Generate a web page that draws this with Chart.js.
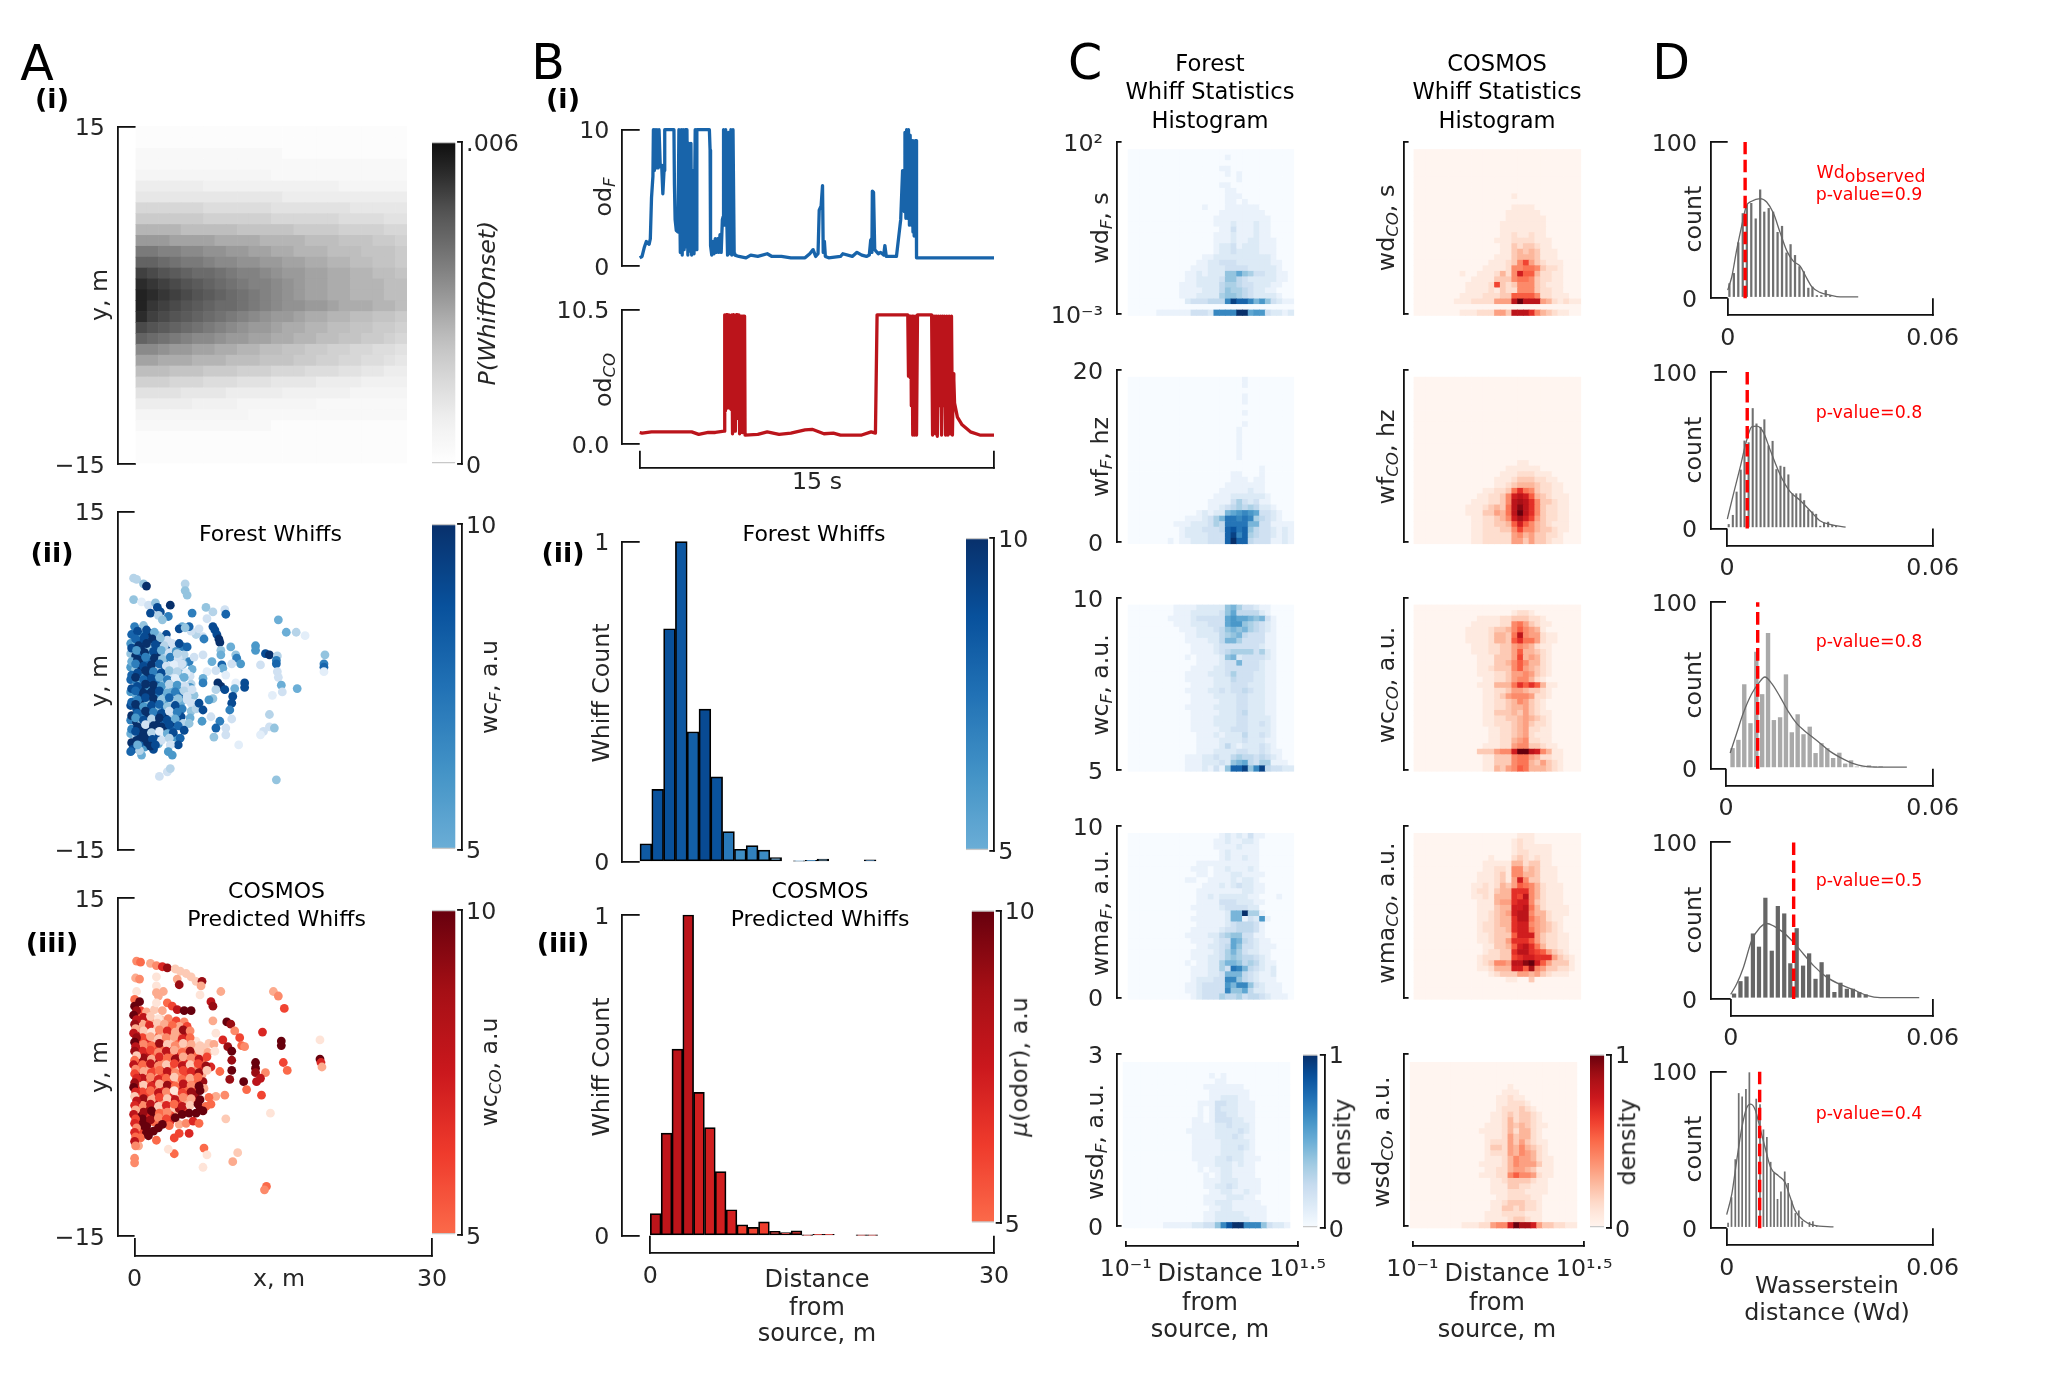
<!DOCTYPE html>
<html lang="en">
<head>
  <meta charset="UTF-8" />
  <title>Whiff statistics</title>
  <script src="https://cdn.jsdelivr.net/npm/chart.js"></script>
  <style>
    html, body { margin: 0; background: #fff; }
    #page { position: relative; width: 2067px; height: 1378px; overflow: hidden; font-family: "DejaVu Sans", sans-serif; }
    #page canvas { position: absolute; }
    .txt { position: absolute; white-space: nowrap; line-height: 1; color: #262626; z-index: 5; }
    .txt sub { font-size: .7em; line-height: 0; vertical-align: -.25em; font-style: italic; }
  </style>
</head>
<body>
<div id="page"></div>
<script>
// ---- data ----

// A(i) P(WhiffOnset), rows top to bottom, one base 36 digit per cell
const onsetRows = [
  '111111111111111111111111', '111111111111111111111111', '222222222222211111111111',
  '222222222222222222222222', '333333333333222222222222', '555555444444444444333333',
  '666666666666655555555555', '999999888888777777766666', 'bbbbbbaaaaaa999999888877',
  'eeeedddddcccccbbbbaaaa99', 'hhhggggffffeeeedddcccbba', 'llkkjjiihhggffeeedddcccb',
  'oonmllkjjiihhggffeeddccb', 'srqponnmlkkjihhggffeeddc', 'utsrqponmlkkjihggffeeedd',
  'vutsrqponmlkjihggffeeedd', 'vtsrqponnmlkjiihhgfffeed', 'usrqponmlkjihhgffeeddccb',
  'rqponmlkjihhgffeeddccbba', 'onmlkjjihhggffeeddccbba9', 'jjihhggffeeddccbbaa99887',
  'ggfffeeedddcccbbaa998876', 'dddcccbbbaaa999888776655', 'aaa999888777666655554444',
  '777766665555544444433333', '555554444333333322222222', '333333333322222222222222',
  '222222222222111111111111', '111111111111111111111111', '111111111111111111111111',
  '111111111111111111111111'
];

// A(ii) forest whiffs [x m, y m, wc]
const forestWhiffs = [
  [0,4.8,7],[.9,4.9,4],[-.4,3.3,6],[.5,3.3,7],[1.1,2.9,8],[1.9,3,5],[2.8,3.4,6],[-.4,2.4,4],[.4,2.4,9],[1.2,2.3,5],[2,2.3,9],[2.8,2.3,6],
  [3.5,2.9,3],[-.4,1.2,6],[.4,1.3,5],[1.2,1,6],[2,1.2,8],[2.8,1.2,5],[3.5,1.5,4],[-.4,.1,8],[.5,0,9],[1.2,-.1,6],[2,.1,6],[2.8,-.1,9],
  [3.5,.2,2],[4.4,.2,4],[-.4,-1,6],[.5,-1.1,5],[1.3,-.9,7],[2.1,-1.1,6],[2.9,-1.1,7],[3.6,-.9,2],[4.4,-1,3],[-.4,-2.2,9],[.5,-2.2,6],
  [1.3,-2.3,8],[2.1,-2.2,10],[2.9,-2.2,5],[3.6,-2.2,7],[4.4,-2.3,2],[-.4,-3.5,7],[.5,-3.5,10],[1.3,-3.5,6],[2.1,-3.5,8],[2.9,-3.6,4],
  [3.6,-3.4,6],[-.4,-4.7,5],[.5,-4.7,6],[1.3,-4.6,8],[2.1,-4.7,10],[3,-4.7,6],[-.1,-5.9,8],[1,-5.9,6],[.7,-6.6,5],
  [-.3,4.1,8],[.7,4,6],[1.6,4.2,10],[2.4,4,3],[3.2,4.1,9],[-.8,3.5,10],[.2,3.4,5],[.8,3.6,9],[1.5,3.4,7],[2.3,3.5,10],[3.3,3.6,2],
  [-.3,2.9,9],[.6,2.8,10],[1.5,3,4],[2.4,2.9,7],[3.2,2.8,9],[4,2.9,2],[4.9,3,7],[-.8,2.3,7],[.1,2.2,10],[.7,2.3,8],[1.5,2.2,6],
  [2.4,2.4,10],[3.1,2.3,3],[3.9,2.2,5],[5,2.3,3],[-.3,1.7,5],[.5,1.8,10],[1.3,1.7,8],[2.2,1.8,4],[3,1.7,6],[3.8,1.8,1],[4.6,1.9,3],
  [5.5,1.7,7],[-.8,1.1,10],[.1,1,4],[.7,1.2,10],[1.5,1.1,9],[2.3,1,3],[3.1,1.2,8],[3.9,1.1,3],[4.7,1,2],[5.8,1,5],[-.3,.5,8],[.6,.4,6],
  [1.4,.6,10],[2.2,.5,10],[3,.4,3],[3.8,.5,2],[4.6,.6,5],[5.6,.4,2],[-.8,-.1,10],[.2,-.1,7],[.7,-.1,5],[1.4,0,10],[2.2,-.2,8],[3,-.1,4],
  [3.9,0,6],[4.7,-.1,1],[5.7,-.3,3],[-.3,-.7,9],[.6,-.8,10],[1.5,-.6,6],[2.2,-.7,10],[3.1,-.8,3],[3.9,-.7,5],[4.7,-.8,4],[5.6,-.6,6],
  [-.8,-1.3,10],[.2,-1.4,5],[.7,-1.3,9],[1.5,-1.2,10],[2.2,-1.4,7],[3,-1.3,4],[3.9,-1.2,2],[4.8,-1.3,8],[6,-1.3,4],[-.3,-1.9,8],[.6,-1.9,10],
  [1.4,-2,4],[2.2,-1.9,10],[3,-1.9,6],[3.8,-2,3],[4.7,-1.9,5],[5.7,-2,2],[-.8,-2.5,6],[.2,-2.5,9],[.7,-2.6,10],[1.5,-2.5,8],[2.2,-2.6,4],
  [3.1,-2.5,8],[3.9,-2.6,6],[4.8,-2.5,7],[5.7,-2.7,4],[-.3,-3.1,10],[.6,-3.1,7],[1.4,-3.2,10],[2.2,-3.1,5],[3,-3.1,10],[3.9,-3.1,3],[4.7,-3.2,9],
  [5.6,-3.3,5],[-.8,-3.7,9],[.2,-3.7,10],[.7,-3.8,4],[1.5,-3.7,10],[2.2,-3.8,10],[3,-3.7,8],[3.9,-3.7,10],[4.9,-3.8,3],[-.3,-4.3,7],[.6,-4.3,10],
  [1.4,-4.4,10],[2.2,-4.3,9],[3,-4.3,10],[3.7,-4.4,8],[-.8,-4.9,9],[.2,-4.9,3],[.6,-5,10],[1.3,-4.9,10],[2.2,-5,9],[3,-5,1],[4.1,-5,6],
  [-.3,-5.5,10],[.6,-5.5,8],[1.3,-5.5,10],[2.4,-5.6,5],[-.8,-6.1,7],[-.2,-6.1,9],[.5,-6.2,3],[1.9,-6.1,9],[-.8,-7.2,7],[-.6,-7.4,5],
  [-.6,4.6,10],[.3,4.4,9],[1.2,4.5,9],[2,4.3,5],[-.7,3.9,9],[.1,3.7,8],[1,3.9,9],[1.8,3.7,10],[2.6,3.8,4],
  [-.6,3.2,7],[.4,3.1,10],[1.2,3.3,10],[2.1,3.2,9],[3,3.1,3],[3.8,3.3,2],[-.7,2.6,8],[.2,2.7,6],[1,2.5,10],
  [1.9,2.6,9],[2.7,2.7,5],[3.5,2.5,2],[4.2,2.6,6],[-.6,2,9],[.3,1.9,10],[1.1,2.1,7],[2,2,10],[2.8,1.9,4],
  [3.6,2.1,7],[4.4,2,2],[-.7,1.4,10],[.1,1.5,7],[.9,1.3,9],[1.7,1.4,10],[2.5,1.5,8],[3.2,1.3,2],[4,1.4,1],
  [4.9,1.5,5],[-.6,.8,6],[.3,.7,9],[1.1,.9,10],[1.9,.8,7],[2.7,.7,9],[3.5,.9,4],[4.3,.8,3],[5.2,.7,1],
  [-.7,.2,9],[.1,.3,10],[.9,.1,8],[1.7,.2,9],[2.5,.3,5],[3.3,.1,7],[4.1,.2,1],[5,.3,5],[-.6,-.4,7],[.3,-.5,9],
  [1.1,-.3,10],[1.9,-.4,10],[2.7,-.5,6],[3.5,-.3,3],[4.3,-.4,6],[5.1,-.5,2],[-.7,-1,8],[.1,-.9,8],[.9,-1.1,10],
  [1.7,-1,10],[2.5,-.9,9],[3.3,-1.1,5],[4.1,-1,7],[5,-.9,3],[-.6,-1.6,10],[.3,-1.7,7],[1.1,-1.5,9],[1.9,-1.6,10],
  [2.7,-1.7,4],[3.5,-1.5,8],[4.4,-1.6,4],[5.3,-1.7,2],[-.7,-2.2,7],[.1,-2.1,10],[.9,-2.3,6],[1.7,-2.2,9],
  [2.5,-2.1,8],[3.3,-2.3,4],[4.1,-2.2,9],[-.6,-2.8,9],[.3,-2.9,8],[1.1,-2.7,10],[1.9,-2.8,7],[2.7,-2.9,9],
  [3.5,-2.7,2],[4.3,-2.8,7],[-.7,-3.4,10],[.1,-3.3,6],[.9,-3.5,9],[1.7,-3.4,3],[2.5,-3.3,10],[3.3,-3.5,9],
  [4.1,-3.4,5],[-.6,-4,8],[.3,-4.1,10],[1.1,-3.9,2],[1.9,-4,10],[2.7,-4.1,10],[3.5,-3.9,9],[4.4,-4,8],
  [-.7,-4.6,10],[.1,-4.5,9],[.9,-4.7,10],[1.7,-4.6,3],[2.5,-4.5,1],[3.3,-4.7,5],[3.9,-4.6,9],[-.6,-5.2,3],
  [.2,-5.3,10],[1,-5.1,10],[1.8,-5.2,9],[2.7,-5.3,2],[3.5,-5.1,3],[-.7,-5.8,10],[.3,-5.7,5],[1.6,-5.8,10],
  [2.1,-5.7,9],[-.7,-6.4,9],[-.4,-6.3,8],[-.7,-6.9,8],[-.5,-6.7,6],
  [-.8,9.8,9],[-.8,9.4,8],[-.1,9.1,3],[.2,9,3],[.9,8.6,4],[1.2,8.4,10],[5.1,8.6,3],[5.1,8,4],[5.3,7.6,4],
  [-.6,7.5,2],[-.1,7.2,4],[.7,7,1],[1.4,6.7,2],[2.1,6.9,4],[1.6,6,9],[2.3,6.5,9],[2.6,6.1,9],[3.6,6.7,10],
  [2.4,5.8,3],[3.4,5.7,7],[2.8,5.4,4],[5.8,6,7],[7.2,6.5,4],[7.9,6.1,3],[9.1,6.3,2],[9.2,5.9,8],[7.3,5.5,2],
  [14.5,5.4,5],[15.3,4.3,5],[16.3,4.3,3],[17.2,4,1],[12.2,3.1,6],[12.2,2.7,6],[13.2,2.4,9],[13.6,2.3,10],
  [14.4,2.2,3],[14.3,1.8,7],[14.3,1.5,8],[12.7,1.4,2],[14.4,.8,2],[14.5,.3,2],[14.8,-.4,5],[14.9,-1,2],
  [16.4,-.7,5],[13.9,-1.3,1],[19.2,2.3,4],[19.1,1.5,7],[19.1,1.2,8],[19.1,.8,1],[13.6,-3,3],[13.6,-4.1,2],
  [14.1,-4.2,4],[13,-4.5,2],[12.7,-4.8,1],[14.3,-8.8,4],[2.5,-8.5,2],[3.3,-8.1,2],[3.6,-7.8,3],[10.5,-5.7,1],
  [7.9,4.8,9],[8.1,4.5,9],[8.3,4.1,9],[8.5,3.7,10],[8.6,3.4,10],[6.9,3.9,2],[6.2,4.1,3],[5.7,4.4,2],[4.8,4.8,5],
  [4.5,4.6,9],[5.5,4.8,8],[5.1,4.7,4],[6.5,4.6,2],[7,3.7,7],[9.7,3,5],[8.7,2.7,4],[8.7,2.3,5],[10.2,2.3,4],
  [10.3,2,7],[10.7,1.5,6],[9.8,1.5,2],[7.8,1.7,5],[8.8,1.4,8],[8.9,1.1,5],[6.9,2.3,2],[6,2.1,2],[5.3,3,8],
  [4.5,3.3,9],[4.3,2.4,3],[4.8,1.5,2],[7.3,.8,1],[8.2,.9,2],[9.2,.5,1],[10.2,-.2,1],[11.1,-.2,9],[11.1,-.6,9],
  [8.4,-.2,10],[8.7,-.5,10],[9.1,-.8,9],[10.1,-.7,5],[9.9,-1.4,9],[9.8,-2,9],[9.6,-2.6,7],[6.9,.2,5],[6.9,-.2,7],
  [8.2,-.8,3],[7.9,-1.6,4],[7.5,-1.7,6],[6.2,-2.5,3],[6.8,-3.6,6],[7.7,-3.2,2],[8.6,-3.6,7],[8.2,-4.2,8],[8,-5,4],
  [9.2,-4.2,2],[9.2,-4.8,2],[9.8,-3.4,2],[5.8,-.8,2],[5.3,-1.4,2],[6.5,-2,9],[6.9,-2.6,9],[5.5,-3.8,4],[5,-4.4,9],
  [4.6,-5.1,8],[4.4,-5.7,9],[3.6,-5.7,2],[3.4,-6.3,6],[3.8,-6.6,6]
];

// A(iii) COSMOS predicted whiffs [x m, y m, wc]
const cosmosWhiffs = [
  [.2,4.7,6],[.8,4.7,4],[3.5,3.9,2],[1,3.2,3],[2.2,3.1,4],[3.1,3,2],[4.1,3.5,3],[1,2.4,5],[1.7,2.4,3],[2.5,2.6,6],[3.4,2.4,4],[4.2,2.4,5],
  [5,2.6,3],[1,1.8,7],[1.7,1.3,4],[2.5,1.8,3],[3.3,1.9,6],[4.2,1.3,6],[5.1,1.3,4],[5.9,1.1,4],[1,.6,6],[1.7,.1,3],[2.4,.7,2],[3.2,.6,6],
  [3.9,0,3],[4.7,.6,4],[5.5,.7,5],[6.2,.1,7],[1,-.6,7],[1.7,-1.1,6],[2.5,-.9,4],[3.2,-.6,3],[4,-1.3,6],[4.7,-.9,7],[5.5,-.7,4],[6.2,-1.1,6],
  [1,-1.6,5],[1.7,-2.3,7],[2.5,-2,6],[3.2,-1.9,4],[4,-2.5,4],[4.8,-2,5],[5.5,-1.3,3],[1,-2.9,4],[1.7,-3.5,5],[2.4,-2.8,3],[3.2,-3,6],[4,-3,3],
  [4.8,-3,3],[5.5,-3,5],[1,-3.7,8],[2.4,-3.9,7],[3.4,-3.5,4],[4.2,-3.9,3],[1.1,-4.7,9],
  [.6,5,6],[1.2,4.9,3],[2,5.1,2],[2.8,5,3],[.5,4.4,5],[1.3,4.1,6],[2,4,3],[2.7,4.2,2],[3.4,4.3,4],[4.2,4.1,6],[5,4,4],
  [.5,3.5,7],[1.1,3.5,4],[1.9,3.4,2],[2.8,3.5,5],[3.7,3.4,4],[4.5,3.6,3],[5.3,3.6,6],[.5,2.9,8],[1.3,2.9,3],[2,2.9,5],[2.8,2.9,3],
  [3.6,2.9,6],[4.4,2.9,4],[5.2,2.9,8],[.5,2.3,6],[1.3,2.3,7],[2.1,2.3,2],[2.9,2.3,6],[3.7,2.3,2],[4.5,2.3,5],[5.3,2.3,6],[6.2,2.3,1],
  [.5,1.7,9],[1.2,1.7,3],[2,1.7,6],[2.8,1.7,5],[3.6,1.7,7],[4.4,1.7,3],[5.2,1.7,4],[6,1.7,2],[7,1.7,2],[.5,1.1,4],[1.3,1.1,8],[2.1,1.1,5],
  [2.9,1.1,2],[3.7,1.1,5],[4.5,1.1,8],[5.3,1.1,3],[6.1,1.1,5],[6.9,1.1,2],[.5,.5,8],[1.2,.5,5],[2,.5,9],[2.8,.5,4],[3.6,.5,2],[4.4,.5,5],
  [5.2,.5,7],[6,.5,3],[6.8,.5,5],[.5,-.1,6],[1.3,-.1,3],[2.1,-.1,6],[2.9,-.1,8],[3.7,-.1,5],[4.5,-.1,2],[5.3,-.1,5],[6.1,-.1,4],[6.9,-.1,7],
  [.5,-.7,9],[1.2,-.7,7],[2,-.7,3],[2.8,-.7,6],[3.6,-.7,9],[4.4,-.7,4],[5.2,-.7,6],[6,-.7,8],[6.8,-.7,3],[.5,-1.3,4],[1.3,-1.3,5],[2.1,-1.3,8],
  [2.9,-1.3,3],[3.7,-1.3,6],[4.5,-1.3,3],[5.3,-1.3,7],[6.1,-1.3,5],[6.9,-1.3,9],[.5,-1.9,7],[1.2,-1.9,9],[2,-1.9,4],[2.8,-1.9,7],[3.6,-1.9,3],
  [4.4,-1.9,8],[5.2,-1.9,5],[6,-1.9,6],[7,-1.9,3],[.5,-2.5,5],[1.3,-2.5,6],[2.1,-2.5,3],[2.9,-2.5,5],[3.7,-2.5,7],[4.5,-2.5,2],[5.3,-2.5,6],
  [6.1,-2.5,9],[.5,-3.1,8],[1.2,-3.1,4],[2,-3.1,8],[2.8,-3.1,3],[3.6,-3.1,5],[4.4,-3.1,6],[5.2,-3.1,3],[6,-3.1,7],[.5,-3.7,3],[1.3,-3.7,9],
  [2.1,-3.7,6],[2.9,-3.7,4],[3.7,-3.7,2],[4.5,-3.7,9],[5.3,-3.7,6],[.5,-4.3,10],[1.2,-4.3,7],[2,-4.3,10],[2.8,-4.3,3],[3.6,-4.3,6],
  [.5,-4.9,9],[1.3,-5,10],[2,-4.9,5],[3.1,-5,5],[3.6,-4.8,7],[.6,-5.6,6],[1.2,-5.8,10],[.6,-6.3,5],[.4,-7,3],[4.5,-5.1,3],[5.2,-5,4],[5.9,-4.8,7],
  [.2,9.4,4],[.6,9.3,5],[1.6,9.2,3],[2.2,9,4],[2.8,8.9,7],[3.3,8.8,9],[4.1,8.7,2],[4.6,8.5,2],[5.2,8.3,2],[5.7,8,2],
  [6.2,7.6,2],[6.8,7.6,9],[6.7,7.2,3],[6.6,6.4,1],[.1,7.9,3],[.5,7.8,4],[2.2,8,1],[4.3,7.8,3],[4.5,7.3,9],[2.2,7.2,1],
  [.2,6.7,1],[2.9,6.7,3],[2.4,6.3,3],[2.2,6.6,3],[8.7,6.7,3],[7.7,5.8,8],[7.9,5.4,9],[14,6.7,3],[14.5,6.3,4],[15.1,5.2,6],
  [0,6,5],[.5,5.8,10],[2.2,5.7,1],[3.3,5.7,5],[3.8,5.4,6],[4.3,5.1,8],[5,5,10],[5.7,5,10],[7.9,4.1,3],[9.3,4,10],
  [9.7,3.8,9],[8.2,3,1],[10.1,3.2,4],[10.6,2.6,6],[8.9,2.4,7],[9.4,1.8,9],[9.8,1.4,10],[10.8,1.9,5],[9.8,.6,9],[11.1,1.8,4],
  [12.9,3.1,7],[14.8,2.3,10],[14.8,1.9,10],[18.7,2.4,1],[18.7,.7,10],[18.8,.4,7],[18.9,0,3],[15,.4,6],[15.4,-.3,5],
  [12.2,.4,10],[12.2,-.1,10],[12.2,-.5,9],[13.2,-.5,4],[12.7,-1,8],[12.3,-1.3,8],[11,-1.3,10],[11.3,-2,5],[12.8,-2.5,6],
  [9.8,-.3,10],[9.6,-1.1,9],[8.6,-.4,5],[7.7,0,7],[9.1,-2.5,4],[8.2,-2.6,3],[7.7,-3.3,5],[9.2,-4.6,2],[13.7,-4.1,1],
  [4,-7.7,5],[3.4,-7.3,1],[7,-7.2,5],[7.3,-7.8,1],[6.9,-8.9,1],[9.9,-8.4,3],[10.4,-7.6,2],[0,-8.1,4],[0,-8.5,4],
  [13.3,-10.6,5],[13.1,-10.9,4],
  [.9,4.4,8],[1.6,4.5,2],[2.4,4.3,1],[.8,3.8,3],[1.5,3.7,7],[2.3,3.9,2],[3,3.8,3],[3.8,3.7,5],[.9,3.2,2],[1.7,3.1,1],
  [2.5,3.3,4],[3.3,3.2,7],[4.1,3.1,3],[4.9,3.3,9],[5.6,3.2,4],[.8,2.6,6],[1.6,2.7,3],[2.4,2.5,2],[3.2,2.6,4],[4,2.7,3],
  [4.8,2.5,7],[5.6,2.6,5],[.9,2,4],[1.7,1.9,5],[2.5,2.1,9],[3.3,2,2],[4.1,1.9,4],[4.9,2.1,2],[5.7,2,3],[6.6,1.9,2],
  [7.5,2.1,2],[8,2,3],[.8,1.4,7],[1.6,1.5,6],[2.4,1.3,4],[3.2,1.4,8],[4,1.5,3],[4.8,1.3,5],[5.6,1.4,9],[6.5,1.5,2],
  [7.4,1.3,3],[8.1,1.4,1],[.9,.8,9],[1.7,.7,3],[2.5,.9,7],[3.3,.8,5],[4.1,.7,9],[4.9,.9,3],[5.7,.8,4],[6.5,.7,8],
  [7.3,.9,6],[.8,.2,5],[1.6,.3,8],[2.4,.1,4],[3.2,.2,2],[4,.3,6],[4.8,.1,8],[5.6,.2,2],[6.4,.3,6],[7.2,.1,9],
  [.9,-.4,3],[1.7,-.5,6],[2.5,-.3,5],[3.3,-.4,8],[4.1,-.5,4],[4.9,-.3,6],[5.7,-.4,7],[6.5,-.5,9],[7.3,-.3,2],
  [.8,-1,8],[1.6,-.9,4],[2.4,-1.1,7],[3.2,-1,5],[4,-.9,2],[4.8,-1.1,5],[5.6,-1,3],[6.4,-.9,5],[.9,-1.6,2],[1.7,-1.7,7],
  [2.5,-1.5,3],[3.3,-1.6,9],[4.1,-1.7,5],[4.9,-1.5,8],[5.7,-1.6,4],[6.5,-1.7,10],[.8,-2.2,6],[1.6,-2.1,5],[2.4,-2.3,8],
  [3.2,-2.2,4],[4,-2.1,1],[4.8,-2.3,6],[5.7,-2.2,9],[6.6,-2.1,10],[.9,-2.8,9],[1.7,-2.9,3],[2.5,-2.7,6],[3.3,-2.8,2],
  [4.1,-2.9,8],[4.9,-2.7,4],[5.7,-2.8,3],[6.6,-2.9,10],[7.5,-2.7,5],[.8,-3.4,4],[1.6,-3.3,8],[2.4,-3.5,2],[3.2,-3.4,7],
  [4,-3.3,5],[4.8,-3.5,8],[5.6,-3.4,2],[6.4,-3.3,10],[7.2,-3.5,5],[.9,-4,9],[1.7,-3.9,10],[2.5,-4.1,5],[3.3,-4,4],
  [.8,-4.6,10],[1.6,-4.7,9],[2.4,-4.5,4],[3.2,-4.6,6],[.9,-5.2,10],[1.2,-5.3,10],[3.5,-5.2,5],
  [0,5.4,10],[.2,5,9],[-.1,4.6,10],[.2,4.2,8],[0,3.8,9],[.1,3.4,3],[-.1,3,8],[.2,2.6,9],[0,2.2,10],[.1,1.8,8],[0,1.4,9],
  [.2,1,2],[0,.6,5],[-.1,.2,8],[.1,-.2,4],[0,-.6,6],[.2,-1,7],[0,-1.4,9],[-.1,-1.8,10],[.1,-2.2,7],[0,-2.6,2],[.2,-3,8],
  [0,-3.4,7],[.1,-3.8,3],[-.1,-4.2,8],[.1,-4.6,6],[0,-5,7],[.2,-5.4,4],[0,-5.8,7],[.1,-6.2,5],[0,-6.6,8],[.1,-7,4],
  [1.4,-6.1,10],[1.9,-5.7,10],[2.4,-5.4,10],[2.8,-5.1,10],[2.2,-6.5,5],[4,-6.3,6],[4.5,-5.9,6],[5.5,-5.9,7],[6.5,-5,5],
  [4.1,-4.5,10],[4.8,-4.2,10],[5.5,-4.1,10],[6.2,-4.1,10],[6.9,-3.9,10],[6.6,-3.8,10]
];

// B(i) odor traces [t s, odor]
const forestOdor = [
  [0,.6],[.1,.7],[.2,1.4],[.28,1.8],[.4,1.6],[.45,2],[.5,5],[.56,6.6],[.58,10],[.62,7],[.65,10],[.7,7.2],[.73,10],[.78,7.2],
  [.82,10],[.87,7.3],[.93,7.4],[.98,5.3],[1.03,7],[1.06,10],[1.45,10],[1.47,6],[1.5,3.4],[1.55,2.6],[1.62,2.5],[1.66,10],
  [1.72,1],[1.76,10],[1.8,.8],[1.84,10],[1.88,1.2],[1.93,10],[1.96,1.4],[2,10],[2.04,.8],[2.08,9],[2.12,1.1],[2.17,9],[2.2,.8],
  [2.25,7],[2.3,.9],[2.35,10],[2.4,1.2],[2.42,10],[2.95,10],[2.98,8.5],[3,1.5],[3.05,.8],[3.1,1.8],[3.15,.9],[3.2,2],[3.25,1],
  [3.3,2],[3.35,1],[3.4,2.3],[3.45,1],[3.5,3.4],[3.53,3.6],[3.55,10],[3.6,3],[3.64,10],[3.68,4],[3.72,.8],[3.76,9.8],[3.8,9],
  [3.83,.9],[3.86,10],[3.9,.8],[3.95,10],[4,.9],[4.03,.8],[4.2,.7],[4.5,.6],[4.7,.8],[5,.7],[5.4,.9],[5.6,.7],[6,.7],[6.4,.6],
  [7,.6],[7.2,.9],[7.34,1.2],[7.45,.7],[7.55,.9],[7.6,4.1],[7.68,4.4],[7.74,5.9],[7.77,1],[7.82,1.8],[7.86,.7],[8,.6],[8.5,.7],
  [8.6,.9],[9,.7],[9.2,1],[9.4,.8],[9.6,.7],[9.72,.8],[9.78,1.9],[9.82,2],[9.83,1],[9.85,5.5],[9.9,5.4],[9.95,1.2],[10.1,.9],
  [10.2,1],[10.33,.8],[10.38,1.5],[10.44,.7],[10.87,.7],[10.95,1.9],[11.05,3.4],[11.13,7],[11.2,4],[11.23,9.8],[11.27,3.5],
  [11.3,10],[11.34,3.5],[11.38,10],[11.42,3],[11.45,9.6],[11.5,3],[11.53,9.2],[11.57,2.5],[11.6,8],[11.62,2.2],[11.67,9.2],
  [11.7,9.2],[11.72,.6],[15,.6]
];
const cosmosOdor = [
  [0,.9],[.1,.85],[.5,.95],[1,.95],[1.5,.95],[2.2,.95],[2.5,.75],[2.9,.9],[3.2,.9],[3.57,1],[3.6,10.1],[3.63,2.6],[3.66,10.1],
  [3.69,2.8],[3.72,10.1],[3.75,3],[3.78,10.1],[3.81,2.8],[3.84,10],[3.87,2.7],[3.9,10.1],[3.93,.8],[3.96,10.1],[3.99,1],[4.02,10],
  [4.05,1],[4.08,10.1],[4.11,2],[4.14,10.1],[4.17,2.7],[4.2,10.1],[4.23,.8],[4.26,10],[4.29,2.8],[4.32,10],[4.35,.9],[4.38,10],
  [4.41,5],[4.44,10],[4.46,.7],[5,.75],[5.4,.95],[5.9,.75],[6.4,.85],[7,1.1],[7.3,1.15],[7.8,.8],[8.2,.85],[8.5,.7],[9.4,.7],
  [9.8,.95],[9.98,.85],[10.05,10.1],[11.35,10.1],[11.38,5.3],[11.42,10],[11.45,5.2],[11.48,10],[11.5,3],[11.53,10],[11.56,.7],
  [11.6,10],[11.64,.7],[11.68,10],[11.72,.7],[11.76,10.1],[12.36,10.1],[12.4,.7],[12.43,10],[12.47,3],[12.5,10],[12.53,.8],
  [12.57,10],[12.6,.6],[12.65,10],[12.7,3],[12.74,10],[12.78,.7],[12.82,10],[12.86,3],[12.9,10],[12.95,.7],[13,10],[13.05,.7],
  [13.1,10],[13.15,.8],[13.2,10],[13.24,.7],[13.28,5.5],[13.3,5],[13.33,3.2],[13.45,2.1],[13.65,1.5],[14,.95],[14.4,.7],[15,.7]
];

// B(ii), B(iii) distance histograms
const forestBins = [.5,1.5,2.5,3.5,4.5,5.5,6.5,7.5,8.5,9.5,10.5,11.5,12.5,13.5,14.5,15.5,16.5,17.5,18.5,19.5];
const forestCounts = [.056,.226,.728,1,.406,.477,.265,.094,.039,.05,.036,.013,null,.002,.004,.008,null,null,null,.006];
const forestMeans = [8.4,8.7,8.8,8.5,8.2,9,8.7,7.2,6.4,6.9,6.5,6.8,7,7,7,6.5,7,7,7,8];
const cosmosBins = [.47,1.42,2.36,3.31,4.25,5.2,6.14,7.09,8.03,8.98,9.92,10.87,11.81,12.76,13.7,14.65,15.59,16.54,17.48,18.43,19.37];
const cosmosCounts = [.069,.32,.582,1,.447,.337,.2,.081,.034,.026,.043,.014,.01,.015,.001,.004,.004,null,null,.001,.001];
const cosmosMeans = [8,7.9,8,8,7.3,7.3,7.3,7.2,6.2,6,6.2,7,7,7,7,7,7,7,7,7,7];

// C density maps, rows top to bottom, one hex digit per cell
const wdForest = [
  '00000000000000000000000000000','00000000000000000100000000000','00000000000000000000000000000','00000000000000001100000000000',
  '00000000000000000101000000000','00000000000000000001000000000','00000000000000001100000000000','00000000000000000110000000000',
  '00000000000000000111000000000','00000000000000000110100000000','00000000000001000111111000000','00000000000000001111111100000',
  '00000000000000011111111110000','00000000000000011121112110000','00000000000000001131112110000','00000000000000011121112110000',
  '00000000000000011121122111000','00000000000000012231222111000','00000000000000012232222111000','00000000000001122222222221000',
  '00000000000011223332222221100','00000000000111222333322222100','00000000001121222668653322110','00000000001122223664322222110',
  '00000000011122224554332221100','00000000011112224655432211000','00000000011122225665432222100','00000000002333444aecca7963211',
  '00000000000000000000000000000','000001111113332aaaaff89932212'
];
const wdCosmos = [
  '00000000000000000000000000000','00000000000000000000000000000','00000000000000000000000000000','00000000000000000000000000000',
  '00000000000000000000000000000','00000000000000000000000000000','00000000000000000000000000000','00000000000000000000000000000',
  '00000000000000000100000000000','00000000000000000000000000000','00000000000000000111100000000','00000000000000001111110000000',
  '00000000000000001111111000000','00000000000000011111111000000','00000000000000011111111000000','00000000000000011211211000000',
  '00000000000000111222211100000','00000000000000011323321100000','00000000000000011343431110000','00000000000000111344431110000',
  '00000000000001112369532111000','00000000000011112667763221000','000000001001112426b8842211000','00000000001111333677632211000',
  '00000000011112932366632111000','00000000011112132266632211000','00000000111122233888862211100','00000001112222555cfccc5421211',
  '00000000000000000000000000000','00000000111222553ccca64321100'
];
const wfForest = [
  '00000000000000000000100000000','00000000000000000000100000000','00000000000000000000000000000','00000000000000000000100000000',
  '00000000000000000000100000000','00000000000000000000000000000','00000000000000000000100000000','00000000000000000000000000000',
  '00000000000000000000100000000','00000000000000000001000000000','00000000000000000001000000000','00000000000000000001000000000',
  '00000000000000000001000000000','00000000000000000001000000000','00000000000000000001000000000','00000000000000000000000000000',
  '00000000000000000000000100000','00000000000000000011000100000','00000000000000000011101100000','00000000000000000111111100000',
  '00000000000000001111121100000','00000000000000011122222210000','00000000000000111135323110000','00000000000000112345454221000',
  '00000000000012122789a98332100','00000000001112357bbaba5432100','00000000111222354bbbb77331111','00000000012223334cdbc64332121',
  '00000000012222333ceac54332121','00000001011222333cfcc43331121'
];
const wfCosmos = [
  '00000000000000000000000000000','00000000000000000000000000000','00000000000000000000000000000','00000000000000000000000000000',
  '00000000000000000000000000000','00000000000000000000000000000','00000000000000000000000000000','00000000000000000000000000000',
  '00000000000000000000000000000','00000000000000000000000000000','00000000000000000000000000000','00000000000000000000000000000',
  '00000000000000000000000000000','00000000000000000000000000000','00000000000000000000000000000','00000000000000000011000000000',
  '00000000000000001111110000000','00000000000000011122211100000','00000000000000111233322110000','00000000000000112344432211000',
  '000000000000112237a7632211000','00000000000112236bcb843211100','00000000001112236cdca63321100','00000000011123437ceca63221100',
  '00000000011133547cfca63221100','00000000001122346bdb953221100','000000000011223348b8643211100','00000000001122233696643321100',
  '00000000001122222564533221000','00000000001122222553533211000'
];
const wcForest = [
  '00000000111122222675332110000','00000000111222223684444210000','00000001111233333898876731000','00000000111222333899654321000',
  '00000000011122234676754321000','00000000001122224567433311000','00000000001111224775333311000','00000000000111123333333211000',
  '00000000000111123455553521000','00000000001011112672333321000','00000000000011112337333211000','00000000000111122333333211000',
  '00000000001111222353332211000','00000000001111122243332211000','00000000000111122233322211000','00000000001111223233432211000',
  '00000000000111122223322211000','00000000000111112223322211000','00000000001111122223322211000','00000000000111112223422211000',
  '00000000000111122223322221000','00000000000111122223322321000','00000000000111112233322221000','00000000000011121222422321000',
  '00000000000011112222322211000','00000000000011112421222321000','00000000000011122223322321100','00000000001112232245443432100',
  '00000000001112223267843551110','000000000011121316cce6ae43322'
];
const wcCosmos = [
  '00000000000000000000000000000','00000000000000000122100000000','00000000000111122333221000000','00000000001111122675321100000',
  '00000000011112334686541000000','000000000111124437c6552110000','000000000111124438a7752110000','00000000001112233565421100000',
  '00000000001112233584432100000','00000000000111333594542100000','00000000000111334686442100000','00000000000112333685432100000',
  '00000000000111223556532100000','00000000000011223566421000000','000000000001114447a8a84110000','00000000000011223554332100000',
  '00000000000011235666522100000','00000000000011223465321000000','00000000000011223445321000000','00000000000011333435321100000',
  '00000000000011223345432100000','00000000000011222345322100000','00000000000001122345221100000','00000000000001122345211100000',
  '00000000000001122456221100000','00000000000011122566332110000','00000000000333566bffcb6411000','00000000000011333677542211000',
  '00000000000011333677435321000','00000000000011435687444321000'
];
const wmaForest = [
  '00000000000000001212131100000','00000000000000011211221000000','00000000000000011112111000000','00000000000000001211111000000',
  '00000000000000001211211000000','00000000000011111111111000000','00000000000111011211121000000','00000000000011011122111100000',
  '00000000001100111121221000000','00000000000001112123221100000','00000000000011111111221100000','00000000000011212222211000100',
  '00000000000011113332221100000','00000000000111112333322000000','00000000000011111277f55100000','00000000000111111277132910000',
  '00000000000011111234443100000','00000000000111112334443100000','00000000001111224566331100000','00000000000111123387432110000',
  '00000000000011223486332111000','00000000000111123575322110000','00000000000111223565443210000','00000000001011225776454211000',
  '000000000001112253ba743212000','00000000000111223777432112000','00000000000122233aa6432111000','0000000000112333397aa63211100',
  '00000000001123333a66842211100','00000000000123335445344321110'
];
const wmaCosmos = [
  '00000000000000000011100000000','00000000000000000121100000000','00000000000000000121111100000','00000000000000000122111100000',
  '00000000000001000232121100000','00000000000011111442331100000','00000000000011221663431110000','00000000000111231664431110000',
  '000000000001112315b6331110000','00000000001121243587642111000','00000000001221344aaa642111000','00000000001121444a9c642111000',
  '00000000000111455abb632111000','00000000000111344bbc742111100','00000000000112345bcc644211100','00000000000112344acc754211000',
  '00000000000122344abb654321000','00000000000122334abb754321000','000000000001123338bbb53221100','00000000000112335aaa853221100',
  '000000000000113348bca74221100','00000000000012233acca98532100','000000000001222339abbaaa53210','00000000000123665ccefb8533310',
  '00000000000112444bb8d65332210','00000000000001233355453211100','00000000000000001100300000000','00000000000000000000000000000',
  '00000000000000000000000000000','00000000000000000000000000000'
];
const wsdForest = [
  '00000000000000000000000000000','00000000000000000000000000000','00000000000000010100000000000','00000000000000001100000000000',
  '00000000000000111111100000000','00000000000000011111110000000','00000000000000011222110000000','00000000000001113322111000000',
  '00000000000001013222111000000','00000000000001013322111000000','00000000000011013332211000000','00000000000011112232221000000',
  '00000000000111112222321000000','00000000000011112223211000000','00000000000011111222221000000','00000000000011111222321000000',
  '00000000000011111222211000000','00000000000011112232211100000','00000000000001112221211000000','00000000000001011221111000000',
  '00000000000000101221111000000','00000000000000111222111100000','00000000000000112232111100000','00000000000000011221121100000',
  '00000000000000111122211000000','00000000000000112221111100000','00000000000000011221111110000','00000000000000112222211110000',
  '00000000000000112222221110000','00000001111122336adffaaa63221'
];
const wsdCosmos = [
  '00000000000000000000000000000','00000000000000000000000000000','00000000000000000000000000000','00000000000000000000000000000',
  '00000000000000000100000000000','00000000000000001110000000000','00000000000000011211000000000','00000000000000011222100000000',
  '00000000000000012223210000000','00000000000000112323321000000','00000000000000112423321000000','00000000000001112434321100000',
  '00000000000011112424421000000','00000000000001112534421000000','00000000000001222535321100000','00000000000001332546432100000',
  '00000000000001222546542100000','00000000000001112465542110000','00000000000011112465553110000','00000000000001122455431110000',
  '00000000000011122686652110000','00000000000000112333321100000','00000000000000111332211100000','00000000000000111222111100000',
  '00000000000000011222211000000','00000000000000112333221000000','00000000000000113323221000000','00000000000001112222111000000',
  '00000000000001111233211000000','00000000011122566bfddb5332211'
];

// D null distributions
const wdBins1 = [.0005,.0018,.0031,.0044,.0056,.0069,.0082,.0095,.0107,.012,.0133,.0146,.0159,.0172,.0184,.0197,.021,.0223,.0236,.0248,.0261,.0274,.0287,.03];
const wdCounts1 = [8.8,15.4,35.2,54,59.5,60.6,50.6,69.3,55,57.3,55,41.9,45.8,28.6,34,27,19.8,16.5,5.9,6.6,1.1,1.1,4.4,1.1];
const wdKde1 = [[0,4.4],[.0012,13],[.0026,30],[.0041,45.8],[.0054,58.3],[.007,61.7],[.0095,63.4],[.0114,61.2],[.0134,53.9],[.0153,41.8],[.0173,29.7],[.0192,23.1],[.0212,19.8],[.0226,14.3],[.0246,6.6],[.027,2.9],[.03,1.1],[.0329,0],[.0382,0]];
const wdBins2 = [.0005,.0017,.0028,.004,.0051,.0063,.0075,.0086,.0098,.0109,.0121,.0133,.0144,.0156,.0167,.0179,.0191,.0202,.0214,.0225,.0237,.0249,.026,.0272,.0283,.0295,.0307,.0318];
const wdCounts2 = [2,7.9,22.9,37.1,55.8,54.7,76.7,66.8,64.6,69.5,52.7,55.6,37.4,39.6,38.9,34,21.8,21.8,21.8,17.4,11.4,10.1,8.6,.9,3,3.5,1.5,.9];
const wdKde2 = [[.0001,5.3],[.0018,20.7],[.0038,38.2],[.0057,55.8],[.0072,64.6],[.0087,65.1],[.0106,61.3],[.0125,50.3],[.0155,33.8],[.0184,22.9],[.0213,17.4],[.0242,10.8],[.0271,4.2],[.03,1.8],[.0346,0]];
const wdBins3 = [.0019,.0036,.0053,.0071,.0088,.0105,.0122,.0139,.0157,.0174,.0191,.0208,.0225,.0243,.026,.0277,.0294,.0311,.0329,.0346,.0363,.038,.0397,.0415,.0432,.0449];
const wdCounts3 = [11.6,16.6,50.3,26.7,70,44.3,81.4,28.6,30.3,56.3,21.2,32.1,20,24.6,8.6,14.6,11.6,5.6,8.8,2.2,4.2,.4,.4,1.2,.5,.6];
const wdKde3 = [[.0012,8.6],[.0031,20.6],[.005,32.7],[.0075,44.7],[.0094,50.7],[.0113,54.7],[.0133,50.7],[.0157,42.7],[.0181,33.7],[.0205,26.6],[.0225,22.6],[.0249,18.6],[.0273,14.6],[.0302,9.6],[.0331,6],[.037,2.2],[.0399,.6],[.0447,0],[.0525,0]];
const wdBins4 = [.001,.0029,.0047,.0066,.0084,.0103,.0122,.014,.0159,.0177,.0196,.0215,.0233,.0252,.027,.0289,.0308,.0326,.0345,.0363,.0382,.0401];
const wdCounts4 = [2.6,10.6,13.6,41.3,32.8,64.3,30.2,59,54.2,22.1,44.7,20.6,28.5,12.1,22.8,14.9,3.6,9.6,5.7,5.7,3.6,2.1];
const wdKde4 = [[0,2.1],[.0018,8.9],[.0038,19.6],[.0062,36.6],[.0087,45.1],[.0107,47.7],[.0127,46.2],[.0156,42],[.0186,35.7],[.0216,28.1],[.0246,20.6],[.0285,13.2],[.0325,8.5],[.0364,5.1],[.0404,1.5],[.0444,0],[.056,0]];
const wdBins5 = [.0004,.0014,.0025,.0035,.0045,.0056,.0066,.0076,.0086,.0097,.0107,.0117,.0128,.0138,.0148,.0158,.0169,.0179,.0189,.02,.021,.022,.0231,.0241,.0251,.0262];
const wdCounts5 = [2.6,19.1,43.6,86.2,84,88.9,99.6,0,82.6,79.1,62.8,57.9,41.9,35.1,18,22.8,35.7,28.3,17,8.9,10.6,3.8,0,3.2,3.6,.6];
const wdKde5 = [[0,7.9],[.0015,21.3],[.0029,42.6],[.0044,63.8],[.0058,76.6],[.007,79.1],[.0083,75.5],[.0097,63.8],[.0112,51],[.0128,38.3],[.0151,32.9],[.017,28.7],[.0185,19.1],[.0199,10.6],[.0223,4.3],[.0252,1.1],[.0311,0]];
const wdObserved = [.0051,.0059,.0092,.0187,.0096];
const pValues = ['p-value=0.9','p-value=0.8','p-value=0.8','p-value=0.5','p-value=0.4'];

// ---- colormaps ----
const BLUES = ['#f7fbff','#deebf7','#c6dbef','#9ecae1','#6baed6','#4292c6','#2171b5','#08519c','#08306b'];
const REDS = ['#fff5f0','#fee0d2','#fcbba1','#fc9272','#fb6a4a','#ef3b2c','#cb181d','#a50f15','#67000d'];
const GREYS = ['#ffffff','#f0f0f0','#d9d9d9','#bdbdbd','#969696','#737373','#525252','#252525','#000000'];

function colormap(map, t) {
  t = Math.max(0, Math.min(1, t)) * (map.length - 1);
  const i = Math.min(Math.floor(t), map.length - 2), f = t - i;
  const a = map[i], b = map[i + 1];
  const mix = k => Math.round(parseInt(a.substr(k, 2), 16) * (1 - f) + parseInt(b.substr(k, 2), 16) * f);
  return 'rgb(' + mix(1) + ',' + mix(3) + ',' + mix(5) + ')';
}

// ---- shared chart plumbing ----
const INK = '#111';
const TICK_COLOR = '#262626';
const SPINE = 1.8;
Chart.defaults.font.family = '"DejaVu Sans", sans-serif';
Chart.defaults.animation = false;

const page = document.getElementById('page');

// ends of the bracket are the only ticks, they point back at the data
function scaleFor(position, range, spec, size) {
  if (!spec) {
    return { type: 'linear', display: false, min: range[0], max: range[1], offset: false, bounds: 'data',
      afterBuildTicks: s => { s.ticks = [{ value: range[0] }, { value: range[1] }]; } };
  }
  return {
    type: 'linear', position: position, min: range[0], max: range[1], offset: false, bounds: 'data',
    grid: { display: true, drawOnChartArea: false, drawTicks: true, tickLength: -spec.tick, color: INK, lineWidth: SPINE, offset: false },
    border: { display: true, color: INK, width: SPINE },
    ticks: { font: { size: spec.size || 23.7 }, color: TICK_COLOR, padding: spec.tick + spec.gap, autoSkip: false, maxRotation: 0,
      callback: (v, i) => spec.labels[i] },
    afterBuildTicks: s => { s.ticks = [{ value: range[0] }, { value: range[1] }]; },
    afterFit: s => { if (s.isHorizontal()) s.height = size; else s.width = size; }
  };
}

function addChart(box, type, datasets, xRange, yRange, xSpec, ySpec) {
  const left = Math.floor(box[0]) - 110, top = Math.floor(box[1]) - 70;
  const right = Math.ceil(box[2]) + 70, bottom = Math.ceil(box[3]) + 70;
  const m = { left: box[0] - left, top: box[1] - top, right: right - box[2], bottom: bottom - box[3] };
  const canvas = document.createElement('canvas');
  canvas.width = right - left;
  canvas.height = bottom - top;
  canvas.style.left = left + 'px';
  canvas.style.top = top + 'px';
  page.appendChild(canvas);
  const yPos = ySpec && ySpec.side === 'right' ? 'right' : 'left';
  return new Chart(canvas, {
    type: type,
    data: { datasets: datasets },
    options: {
      responsive: false,
      maintainAspectRatio: false,
      layout: { padding: {
        left: ySpec && yPos === 'left' ? 0 : m.left,
        right: ySpec && yPos === 'right' ? 0 : m.right,
        top: m.top,
        bottom: xSpec ? 0 : m.bottom
      } },
      plugins: { legend: { display: false }, tooltip: { enabled: false } },
      scales: {
        x: scaleFor('bottom', xRange, xSpec, m.bottom),
        y: scaleFor(yPos, yRange, ySpec, yPos === 'left' ? m.left : m.right)
      }
    },
    plugins: [{
      id: 'offsetSpines',
      afterLayout(chart) {
        if (xSpec) { chart.scales.x.top += xSpec.shift; chart.scales.x.bottom += xSpec.shift; }
        if (ySpec) {
          const d = yPos === 'left' ? -ySpec.shift : ySpec.shift;
          chart.scales.y.left += d; chart.scales.y.right += d;
        }
      },
      // canvas "middle" sits a little high for digits
      beforeDraw(chart) {
        if (ySpec) chart.scales.y.getLabelItems(chart.chartArea).forEach(it => { it.options.translation[1] += 2.5; });
      }
    }]
  });
}

function label(html, cx, cy, opts) {
  opts = opts || {};
  const el = document.createElement('div');
  el.className = 'txt';
  el.innerHTML = html;
  el.style.left = cx + 'px';
  el.style.top = cy + 'px';
  el.style.fontSize = (opts.size || 23.7) + 'px';
  if (opts.color) el.style.color = opts.color;
  if (opts.bold) el.style.fontWeight = 'bold';
  if (opts.italic) el.style.fontStyle = 'italic';
  el.style.transform = 'translate(-50%,-50%)' + (opts.rot ? ' rotate(-90deg)' : '');
  page.appendChild(el);
}

// heat cell = floating bar one row tall
function heatmap(box, rows, map, depth, xRange, yRange, xSpec, ySpec) {
  const cells = [], colors = [];
  rows.forEach((row, r) => {
    for (let c = 0; c < row.length; c++) {
      const v = parseInt(row.charAt(c), 36) || 0;
      cells.push({ x: c + .5, y: [rows.length - 1 - r, rows.length - r] });
      colors.push(colormap(map, v / depth));
    }
  });
  return addChart(box, 'bar', [{ data: cells, backgroundColor: colors, borderWidth: 0, categoryPercentage: 1, barPercentage: 1, clip: false }],
    xRange, yRange, xSpec, ySpec);
}

function colorbar(box, map, from, to, labels, shift) {
  const gradient = ctx => {
    const area = ctx.chart.chartArea;
    if (!area) return '#ccc';
    const g = ctx.chart.ctx.createLinearGradient(0, area.bottom, 0, area.top);
    for (let i = 0; i <= 20; i++) g.addColorStop(i / 20, colormap(map, from + (to - from) * i / 20));
    return g;
  };
  return addChart(box, 'bar', [{
    data: [{ x: .5, y: [0, 1] }], backgroundColor: gradient, borderColor: '#c8c8c8',
    borderWidth: { top: 1.5, bottom: 1.5 }, borderSkipped: false, categoryPercentage: 1, barPercentage: 1, clip: false
  }], [0, 1], [0, 1], null, { side: 'right', labels: labels, shift: shift, tick: 5, gap: 4 });
}

function whiffScatter(box, whiffs, map, clip, xSpec) {
  return addChart(box, 'scatter', [{
    data: whiffs.map(p => ({ x: p[0], y: p[1] })),
    backgroundColor: whiffs.map(p => colormap(map, p[2] / 10)),
    borderWidth: 0, pointRadius: 4.4, clip: clip
  }], [0, 30], [-15, 15], xSpec, { labels: ['\u221215', '15'], shift: 16.3, tick: 16.3, gap: 13.5 });
}

function distanceHist(box, bins, counts, means, map, xSpec, shift) {
  return addChart(box, 'bar', [{
    data: bins.map((b, i) => ({ x: b, y: counts[i] })),
    backgroundColor: means.map(v => colormap(map, v / 10)),
    borderColor: '#000', borderWidth: 1.7, borderSkipped: false, categoryPercentage: 1, barPercentage: 1, clip: false
  }], [0, 30], [0, 1], xSpec, { labels: ['0', '1'], shift: shift, tick: 17.4, gap: 13 });
}

function odorTrace(box, trace, color, yRange, labels, xSpec) {
  return addChart(box, 'line', [{
    data: trace.map(p => ({ x: p[0], y: p[1] })), borderColor: color, borderWidth: 3.3,
    pointRadius: 0, tension: 0, borderJoinStyle: 'round', clip: false
  }], [0, 15], yRange, xSpec, { labels: labels, shift: 17.4, tick: 17.4, gap: 13 });
}

function wdHist(box, bins, counts, kde, observed, barColor, fill) {
  const yLow = -.9;
  return addChart(box, 'bar', [
    { type: 'line', data: [{ x: observed, y: yLow }, { x: observed, y: 100 }], borderColor: '#ff0000', borderWidth: 3.4,
      borderDash: [12.6, 5.4], pointRadius: 0, order: 0, clip: false },
    { type: 'line', data: kde.map(p => ({ x: p[0], y: p[1] })), borderColor: '#666', borderWidth: 1.3, pointRadius: 0,
      cubicInterpolationMode: 'monotone', order: 1, clip: false },
    { data: bins.map((b, i) => ({ x: b, y: counts[i] })), backgroundColor: barColor, borderWidth: 0,
      categoryPercentage: 1, barPercentage: fill, order: 2, clip: false, base: 0 }
  ], [0, .06], [yLow, 100],
  { labels: ['0', '0.06'], shift: 17, tick: 17, gap: 9 },
  { labels: ['0', '100'], shift: box[0] - 1711, tick: box[0] - 1711, gap: 14 });
}

// ---- panel A ----
heatmap([135.9, 126.5, 406.7, 464], onsetRows, GREYS, 35, [0, 24], [0, 31], null, { labels: ['\u221215', '15'], shift: 17.6, tick: 17.6, gap: 13.5 });
colorbar([432, 142, 455.4, 464], GREYS, 0, .95, ['0', '.006'], 6.7);
whiffScatter([134.6, 511.7, 432, 849.7], forestWhiffs, BLUES, { left: 8.5, right: 0, top: 0, bottom: 0 }, null);
colorbar([432, 524, 455.4, 849.7], BLUES, .5, 1, ['5', '10'], 6.7);
whiffScatter([134.6, 898, 432, 1236], cosmosWhiffs, REDS, false, { labels: ['0', '30'], shift: 20, tick: 18, gap: 10 });
colorbar([432, 910, 455.4, 1235], REDS, .5, 1, ['5', '10'], 6.7);

// ---- panel B ----
odorTrace([639.7, 129.7, 994, 266], forestOdor, '#1864aa', [0, 10], ['0', '10'], null);
odorTrace([639.7, 309.7, 994, 444], cosmosOdor, '#bb141b', [0, 10.5], ['0.0', '10.5'], { labels: ['', ''], shift: 23.7, tick: 17, gap: 8 });
distanceHist([640, 541.7, 994, 861.7], forestBins, forestCounts, forestMeans, BLUES, null, 17.7);
colorbar([966, 538, 988, 850.7], BLUES, .5, 1, ['5', '10'], 6.3);
distanceHist([650.3, 915, 994, 1235.7], cosmosBins, cosmosCounts, cosmosMeans, REDS, { labels: ['0', '30'], shift: 17, tick: 17, gap: 10 }, 28);
colorbar([971.7, 910.7, 994, 1223.3], REDS, .5, 1, ['5', '10'], 6.7);

// ---- panel C ----
const forestMaps = [wdForest, wfForest, wcForest, wmaForest];
const cosmosMaps = [wdCosmos, wfCosmos, wcCosmos, wmaCosmos];
const mapTops = [141.9, 369.9, 598.3, 826];
const mapBottoms = [314.1, 542, 770, 997.7];
const mapRowSpans = [[.25, 31.37], [.32, 31.3], [.23, 31.2], [.29, 31.32]];
const mapTickLabels = [['10\u207B\u00B3', '10\u00B2'], ['0', '20'], ['5', '10'], ['0', '10']];
forestMaps.forEach((rows, i) => {
  heatmap([1128.1, mapTops[i], 1293.8, mapBottoms[i]], rows, BLUES, 15, [0, 29], mapRowSpans[i], null,
    { labels: mapTickLabels[i], shift: 11.1, tick: 4.6, gap: 14 });
  heatmap([1413.9, mapTops[i], 1580.8, mapBottoms[i]], cosmosMaps[i], REDS, 15, [0, 29], mapRowSpans[i], null,
    { labels: ['', ''], shift: 9.9, tick: 4.6, gap: 14 });
});
const distanceTicks = ['10\u207B\u00B9', '10\u00B9\u00B7\u2075'];
heatmap([1125.8, 1054, 1297.6, 1226], wsdForest, BLUES, 15, [.47, 30.32], [.36, 31.5],
  { labels: distanceTicks, shift: 20, tick: 5, gap: 10 }, { labels: ['0', '3'], shift: 8.8, tick: 4.6, gap: 14 });
colorbar([1303, 1054.5, 1317.5, 1228], BLUES, 0, 1, ['0', '1'], 7.3);
heatmap([1412.4, 1054, 1584.2, 1226], wsdCosmos, REDS, 15, [.4, 30.27], [.36, 31.5],
  { labels: distanceTicks, shift: 20, tick: 5, gap: 10 }, { labels: ['', ''], shift: 8.4, tick: 4.6, gap: 14 });
colorbar([1590, 1054.5, 1604.2, 1228], REDS, 0, 1, ['0', '1'], 6.8);

// ---- panel D ----
wdHist([1727.7, 141.9, 1932.7, 298.3], wdBins1, wdCounts1, wdKde1, wdObserved[0], '#707070', .55);
wdHist([1727, 372, 1932.7, 528.6], wdBins2, wdCounts2, wdKde2, wdObserved[1], '#707070', .55);
wdHist([1726, 602.3, 1932.7, 768.7], wdBins3, wdCounts3, wdKde3, wdObserved[2], '#a9a9a9', .75);
wdHist([1730.7, 842.3, 1932.7, 999], wdBins4, wdCounts4, wdKde4, wdObserved[3], '#666666', .7);
wdHist([1726.7, 1071.7, 1932.7, 1228.3], wdBins5, wdCounts5, wdKde5, wdObserved[4], '#707070', .5);

// ---- text ----
[['A', 37, 63], ['B', 548, 62], ['C', 1085, 62], ['D', 1671, 62]].forEach(t => label(t[0], t[1], t[2], { size: 49, color: '#000' }));
[['(i)', 52, 98], ['(ii)', 52, 552], ['(iii)', 52, 942], ['(i)', 563, 98], ['(ii)', 563, 552], ['(iii)', 563, 942]]
  .forEach(t => label(t[0], t[1], t[2], { size: 27, bold: true, color: '#000' }));

label('y, m', 99.7, 295, { rot: true });
label('y, m', 99.7, 681, { rot: true });
label('y, m', 99.7, 1067, { rot: true });
label('P(WhiffOnset)', 487.5, 303, { rot: true, italic: true });
label('wc<sub>F</sub>, a.u', 490, 687, { rot: true });
label('wc<sub>CO</sub>, a.u', 490, 1072, { rot: true });
label('x, m', 279, 1279);
label('Forest Whiffs', 270.4, 534, { size: 22, color: '#000' });
label('COSMOS', 276.5, 891, { size: 22, color: '#000' });
label('Predicted Whiffs', 276.5, 919, { size: 22, color: '#000' });

label('od<sub>F</sub>', 604, 197, { rot: true });
label('od<sub>CO</sub>', 604, 380, { rot: true });
label('15 s', 817, 482);
label('Whiff Count', 602, 693, { rot: true });
label('Whiff Count', 602, 1067, { rot: true });
label('Forest Whiffs', 814, 534, { size: 22, color: '#000' });
label('COSMOS', 820, 891, { size: 22, color: '#000' });
label('Predicted Whiffs', 820, 919, { size: 22, color: '#000' });
label('Distance', 817, 1279, { size: 24 });
label('from', 817, 1307, { size: 24 });
label('source, m', 817, 1333, { size: 24 });
label('<i>\u03BC</i>(odor), a.u', 1020, 1067, { rot: true });

[1210, 1497].forEach((x, i) => {
  label(i ? 'COSMOS' : 'Forest', x, 63.4, { size: 22.6, color: '#000' });
  label('Whiff Statistics', x, 91.3, { size: 22.6, color: '#000' });
  label('Histogram', x, 120.2, { size: 22.6, color: '#000' });
  label('Distance', x, 1273, { size: 24 });
  label('from', x, 1302, { size: 24 });
  label('source, m', x, 1329, { size: 24 });
});
const mapNames = ['wd', 'wf', 'wc', 'wma'];
const mapUnits = ['s', 'hz', 'a.u.', 'a.u.'];
const mapLabelY = [228, 457, 685, 913];
mapNames.forEach((n, i) => {
  label(n + '<sub>F</sub>, ' + mapUnits[i], 1100.5, mapLabelY[i], { rot: true });
  label(n + '<sub>CO</sub>, ' + mapUnits[i], 1386.8, mapLabelY[i], { rot: true });
});
label('wsd<sub>F</sub>, a.u.', 1096, 1142, { rot: true });
label('wsd<sub>CO</sub>, a.u.', 1382, 1142, { rot: true });
label('density', 1342.8, 1142, { rot: true });
label('density', 1628, 1142, { rot: true });

[219.4, 450, 685, 920, 1149].forEach(y => label('count', 1694, y, { rot: true }));
[195.3, 412.9, 642, 881, 1114].forEach((y, i) => label(pValues[i], 1869, y, { size: 17.4, color: '#ff0000' }));
label('Wd<span style="font-size:17.4px;position:relative;top:4px">observed</span>', 1871, 173, { size: 17.4, color: '#ff0000' });
label('Wasserstein', 1827, 1286, { size: 23.8 });
label('distance (Wd)', 1827, 1313, { size: 23.8 });
</script>
</body>
</html>
